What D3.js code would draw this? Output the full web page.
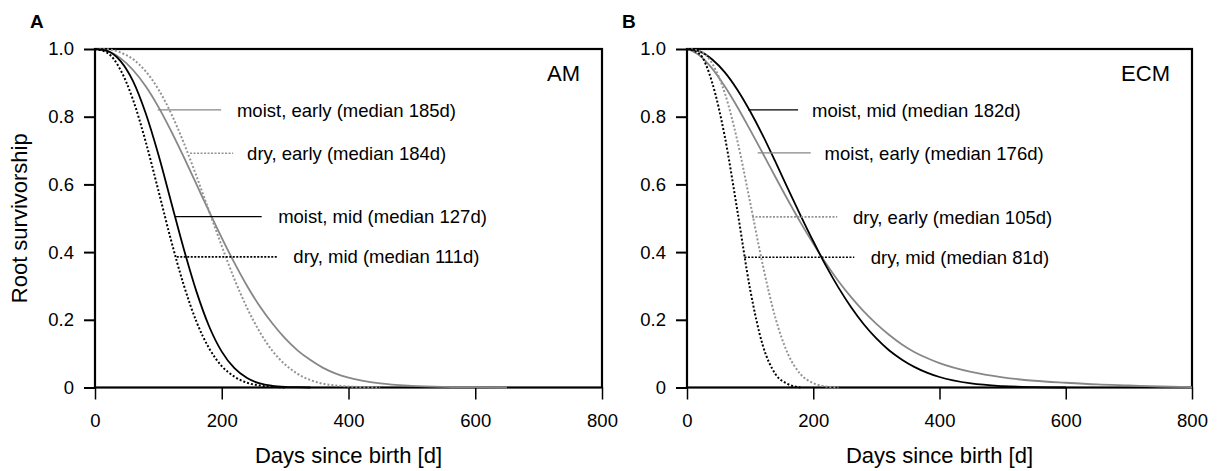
<!DOCTYPE html>
<html>
<head>
<meta charset="utf-8">
<script src="https://cdn.jsdelivr.net/npm/d3@7/dist/d3.min.js"></script>
<style>
  body { margin: 0; background: #fff; }
  svg { font-family: "Liberation Sans", Arial, sans-serif; }
</style>
</head>
<body>
<svg id="chart" width="1218" height="471"></svg>
<script>
// days at which the survivorship curves were read
var days = [0, 20, 40, 60, 80, 100, 120, 140, 160, 180, 200, 220, 240, 260, 280, 300, 320, 340, 360, 380, 400, 450, 500, 550, 600, 650, 700, 750, 800];
var xTicks = [0, 200, 400, 600, 800];
var yTicks = [0, 0.2, 0.4, 0.6, 0.8, 1.0];

// panel A - AM
var amMoistEarly = [1, .994, .973, .938, .890, .829, .758, .681, .601, .520, .442, .368, .300, .240, .189, .145, .109, .081, .058, .041, .029, .012, .005, .002, .001, 0, null, null, null];
var amDryEarly   = [1, .999, .990, .970, .934, .881, .810, .723, .625, .521, .418, .320, .235, .164, .108, .068, .040, .022, .011, .006, .003, 0, null, null, null, null, null, null, null];
var amMoistMid   = [1, .994, .965, .905, .810, .688, .549, .410, .284, .181, .106, .057, .028, .012, .005, .002, .001, 0, null, null, null, null, null, null, null, null, null, null, null];
var amDryMid     = [1, .988, .939, .850, .726, .582, .435, .303, .195, .116, .063, .032, .014, .006, .002, 0, null, null, null, null, null, null, null, null, null, null, null, null, null];
var amLabels = ["moist, early (median 185d)", "dry, early (median 184d)", "moist, mid (median 127d)", "dry, mid (median 111d)"];

// panel B - ECM
var ecmMoistMid   = [1, .993, .969, .931, .879, .816, .745, .667, .587, .508, .432, .360, .295, .237, .187, .145, .110, .083, .061, .044, .031, .012, .004, .001, 0, null, null, null, null];
var ecmMoistEarly = [1, .981, .942, .889, .828, .761, .692, .622, .553, .487, .425, .367, .314, .267, .225, .188, .156, .128, .105, .087, .072, .046, .030, .020, .014, .009, .006, .003, .001];
var ecmDryEarly   = [1, .994, .957, .869, .727, .547, .362, .206, .099, .039, .013, .003, 0, null, null, null, null, null, null, null, null, null, null, null, null, null, null, null, null];
var ecmDryMid     = [1, .985, .900, .740, .520, .290, .125, .040, .010, 0, null, null, null, null, null, null, null, null, null, null, null, null, null, null, null, null, null, null, null];
var ecmLabels = ["moist, mid (median 182d)", "moist, early (median 176d)", "dry, early (median 105d)", "dry, mid (median 81d)"];

var styles = {
  blackSolid: { color: "#000", width: 1.8, dash: null },
  graySolid:  { color: "#878787", width: 1.8, dash: null },
  blackDot:   { color: "#000", width: 2, dash: "2,2" },
  grayDot:    { color: "#939393", width: 2, dash: "2,2" }
};

var panels = [
  {
    letter: "A", tag: "AM", left: 95, right: 602, yLabel: true,
    series: [
      { values: amMoistEarly, style: "graySolid" },
      { values: amDryEarly, style: "grayDot" },
      { values: amMoistMid, style: "blackSolid" },
      { values: amDryMid, style: "blackDot" }
    ],
    // leader lines in data units: y, x from, x to, text x
    notes: [
      { label: amLabels[0], style: "graySolid", y: 0.820, x0: 99, x1: 199, tx: 224 },
      { label: amLabels[1], style: "grayDot", y: 0.692, x0: 150, x1: 218, tx: 240 },
      { label: amLabels[2], style: "blackSolid", y: 0.505, x0: 126, x1: 263, tx: 289 },
      { label: amLabels[3], style: "blackDot", y: 0.386, x0: 129, x1: 287, tx: 313 }
    ]
  },
  {
    letter: "B", tag: "ECM", left: 687, right: 1192, yLabel: false,
    series: [
      { values: ecmMoistEarly, style: "graySolid" },
      { values: ecmMoistMid, style: "blackSolid" },
      { values: ecmDryEarly, style: "grayDot" },
      { values: ecmDryMid, style: "blackDot" }
    ],
    notes: [
      { label: ecmLabels[0], style: "blackSolid", y: 0.820, x0: 97, x1: 176, tx: 198 },
      { label: ecmLabels[1], style: "graySolid", y: 0.693, x0: 112, x1: 196, tx: 218 },
      { label: ecmLabels[2], style: "grayDot", y: 0.504, x0: 103, x1: 238, tx: 263 },
      { label: ecmLabels[3], style: "blackDot", y: 0.385, x0: 91, x1: 265, tx: 291 }
    ]
  }
];

var plotTop = 49, plotBottom = 387.5;
var svg = d3.select("#chart");

panels.forEach(function(p) {
  var x = d3.scaleLinear().domain([0, 800]).range([p.left, p.right]);
  var y = d3.scaleLinear().domain([0, 1]).range([plotBottom, plotTop]);
  var g = svg.append("g");

  // y axis
  var ya = g.append("g")
    .attr("transform", "translate(" + p.left + ",0)")
    .call(d3.axisLeft(y).tickValues(yTicks).tickSize(11).tickPadding(10)
      .tickFormat(function(d) { return d === 0 ? "0" : d3.format(".1f")(d); }));
  ya.select(".domain").remove();
  ya.attr("font-size", null).attr("font-family", null);
  ya.selectAll("line").attr("stroke", "#000").attr("stroke-width", 2);
  ya.selectAll("text").attr("font-size", 18.5).attr("fill", "#000");

  // x axis
  var xa = g.append("g")
    .attr("transform", "translate(0," + plotBottom + ")")
    .call(d3.axisBottom(x).tickValues(xTicks).tickSize(12).tickPadding(14).tickFormat(d3.format("d")));
  xa.select(".domain").remove();
  xa.attr("font-size", null).attr("font-family", null);
  xa.selectAll("line").attr("stroke", "#000").attr("stroke-width", 1.5);
  xa.selectAll("text").attr("font-size", 18.5).attr("fill", "#000");

  // frame
  g.append("rect")
    .attr("x", p.left).attr("y", plotTop)
    .attr("width", p.right - p.left).attr("height", plotBottom - plotTop)
    .attr("fill", "none").attr("stroke", "#000").attr("stroke-width", 2.2);

  var line = d3.line()
    .defined(function(d) { return d[1] !== null; })
    .curve(d3.curveMonotoneX)
    .x(function(d) { return x(d[0]); })
    .y(function(d) { return y(d[1]); });

  p.series.forEach(function(s) {
    var st = styles[s.style];
    g.append("path")
      .datum(days.map(function(d, i) { return [d, s.values[i]]; }))
      .attr("d", line)
      .attr("fill", "none")
      .attr("stroke", st.color)
      .attr("stroke-width", st.width)
      .attr("stroke-dasharray", st.dash);
  });

  // leader lines + labels
  p.notes.forEach(function(n) {
    var st = styles[n.style];
    g.append("line")
      .attr("x1", x(n.x0)).attr("x2", x(n.x1))
      .attr("y1", y(n.y)).attr("y2", y(n.y))
      .attr("stroke", st.color)
      .attr("stroke-width", st.dash ? 1.6 : 1.3)
      .attr("stroke-dasharray", st.dash ? "2,1.5" : null);
    g.append("text")
      .attr("x", x(n.tx)).attr("y", y(n.y))
      .attr("dy", "0.36em")
      .attr("font-size", 18.5)
      .text(n.label);
  });

  // tag (AM / ECM)
  g.append("text")
    .attr("x", p.right - 22).attr("y", 81)
    .attr("text-anchor", "end")
    .attr("font-size", 22)
    .text(p.tag);

  // panel letter
  g.append("text")
    .attr("x", p.left - 65).attr("y", 28)
    .attr("font-size", 19).attr("font-weight", "bold")
    .text(p.letter);

  // x title
  g.append("text")
    .attr("x", (p.left + p.right) / 2).attr("y", 463)
    .attr("text-anchor", "middle")
    .attr("font-size", 22)
    .text("Days since birth [d]");

  if (p.yLabel) {
    g.append("text")
      .attr("transform", "translate(27," + (plotTop + plotBottom) / 2 + ") rotate(-90)")
      .attr("text-anchor", "middle")
      .attr("font-size", 22)
      .text("Root survivorship");
  }
});
</script>
</body>
</html>
